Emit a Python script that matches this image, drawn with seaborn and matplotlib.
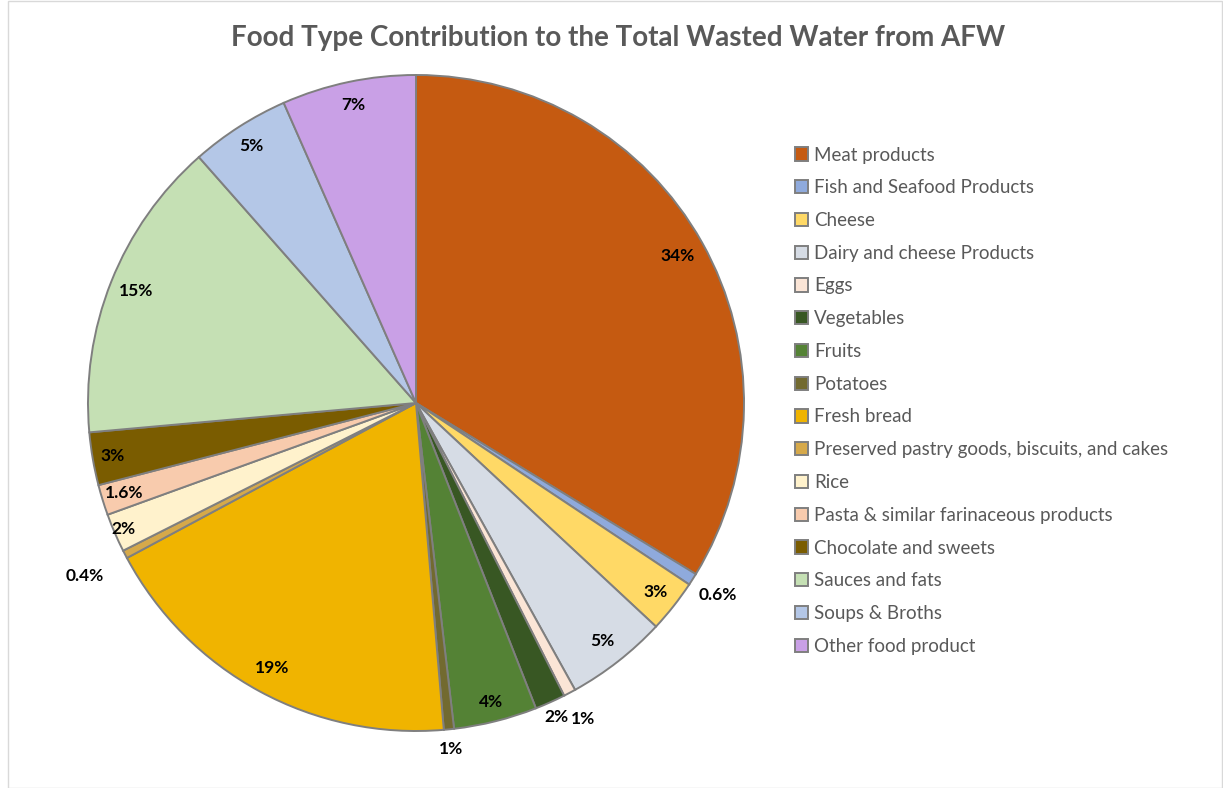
import numpy as np
import matplotlib
matplotlib.use("Agg")
import matplotlib.pyplot as plt
from matplotlib.patches import Patch, Rectangle
import seaborn as sns

# --- dados (percentagens aproximadas) ---
categorias = [
    "Meat products", "Fish and Seafood Products", "Cheese",
    "Dairy and cheese Products", "Eggs", "Vegetables", "Fruits", "Potatoes",
    "Fresh bread", "Preserved pastry goods, biscuits, and cakes", "Rice",
    "Pasta & similar farinaceous products", "Chocolate and sweets",
    "Sauces and fats", "Soups & Broths", "Other food product",
]
valores = [33.7, 0.6, 2.6, 5.0, 0.6, 1.5, 4.1, 0.5,
           18.5, 0.4, 1.9, 1.5, 2.6, 14.9, 4.9, 6.6]
rotulos = ["34%", "0.6%", "3%", "5%", "1%", "2%", "4%", "1%",
           "19%", "0.4%", "2%", "1.6%", "3%", "15%", "5%", "7%"]
cores = ["#C55A11", "#8FAADC", "#FFD966", "#D6DCE5", "#FBE5D6", "#385723",
         "#548235", "#726A30", "#F0B400", "#D6A94A", "#FFF2CC", "#F8CBAD",
         "#7A5C00", "#C5E0B4", "#B4C7E7", "#C9A0E6"]

# distância radial de cada rótulo (dentro / fora da fatia)
dist_rotulo = [0.915, 1.09, 0.93, 0.92, 1.09, 1.05, 0.94, 1.06,
               0.92, 1.14, 0.97, 0.93, 0.94, 0.92, 0.93, 0.93]

sns.set_theme(style="white")
plt.rcParams["font.family"] = ["Lato", "DejaVu Sans"]

W, H = 1223, 788
fig = plt.figure(figsize=(W / 100, H / 100), dpi=100)
fig.patch.set_facecolor("white")

# moldura cinzenta à volta da área do gráfico
fig.add_artist(Rectangle((8 / W, 0.5 / H), (W - 9) / W, (H - 1.5) / H,
                         transform=fig.transFigure, fill=False,
                         edgecolor="#D9D9D9", linewidth=1))

lim = 1.15
raio_px = 328
lado = 2 * lim * raio_px
cx, cy = 416, 403
ax = fig.add_axes([(cx - lado / 2) / W, (H - cy - lado / 2) / H, lado / W, lado / H])

paleta = sns.color_palette(cores)
fatias, _ = ax.pie(valores, colors=paleta, startangle=90, counterclock=False,
                   radius=1.0,
                   wedgeprops=dict(edgecolor="#7F7F7F", linewidth=1.4))

for w, txt, r in zip(fatias, rotulos, dist_rotulo):
    ang = np.deg2rad((w.theta1 + w.theta2) / 2)
    ax.text(r * np.cos(ang), r * np.sin(ang), txt, ha="center", va="center",
            fontsize=12.5, fontweight="bold", color="black")

ax.set_xlim(-lim, lim)
ax.set_ylim(-lim, lim)
ax.set_aspect("equal")
ax.axis("off")

fig.text(618 / W, 1 - 38 / H,
         "Food Type Contribution to the Total Wasted Water from AFW",
         ha="center", va="center", fontsize=20, fontweight="bold",
         color="#595959")

handles = [Patch(facecolor=c, edgecolor="#7F7F7F", linewidth=1.4) for c in paleta]
fig.legend(handles, categorias, loc="upper left",
           bbox_to_anchor=(787 / W, 1 - 139 / H), frameon=False,
           fontsize=13.5, labelcolor="#595959", handlelength=0.7,
           handleheight=0.7, handletextpad=0.35, labelspacing=0.84,
           borderaxespad=0)

fig.savefig("out.png", dpi=100)
